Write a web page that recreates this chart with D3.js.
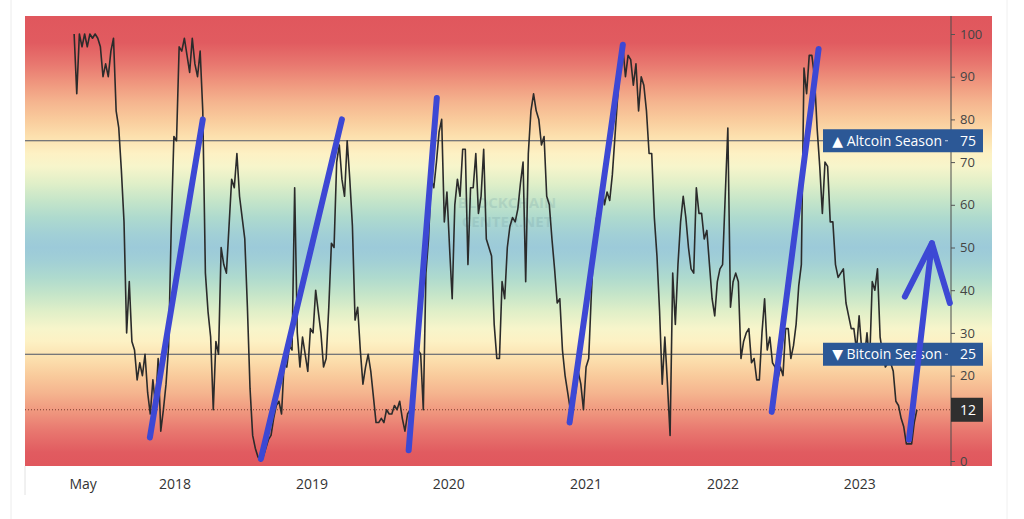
<!DOCTYPE html>
<html>
<head>
<meta charset="utf-8">
<script src="https://cdn.jsdelivr.net/npm/d3@7"></script>
<style>
  body { margin: 0; background: #fff; }
  svg { display: block; font-family: "Open Sans", "DejaVu Sans", sans-serif; }
</style>
</head>
<body>
<div id="chart"></div>
<script>
// Altcoin season index, one reading per week starting at startDate
var startDate = "2017-04-07";
var stepDays = 7;
var seasonIndex = [
  100, 86, 100, 97, 100, 97, 100, 99, 100, 99,
  97, 90, 93, 90, 96, 99, 82, 78, 68, 56,
  30, 42, 28, 26, 19, 23, 20, 25, 16, 11,
  19, 13, 24, 7, 12, 18, 27, 55, 76, 75,
  97, 96, 99, 95, 91, 99, 93, 90, 96, 82,
  44, 35, 29, 12, 28, 25, 50, 46, 44, 55,
  66, 64, 72, 62, 57, 52, 36, 17, 6, 3,
  1, 0, 1, 3, 5, 6, 10, 13, 14, 11,
  23, 22, 27, 26, 64, 30, 22, 29, 25, 21,
  31, 30, 40, 35, 30, 22, 24, 36, 51, 50,
  70, 74, 66, 62, 75, 66, 55, 33, 36, 26,
  18, 22, 25, 21, 15, 9, 9, 10, 9, 12,
  11, 11, 13, 12, 14, 10, 7, 11, 12, 15,
  22, 26, 25, 12, 44, 52, 66, 64, 70, 77,
  80, 56, 63, 50, 38, 60, 66, 62, 73, 73,
  46, 64, 64, 72, 58, 62, 73, 52, 50, 48,
  32, 24, 24, 42, 38, 50, 55, 57, 56, 59,
  65, 70, 42, 72, 82, 86, 82, 80, 74, 76,
  62, 60, 52, 45, 37, 38, 26, 20, 16, 12,
  14, 16, 21, 18, 12, 22, 24, 39, 51, 57,
  58, 65, 60, 63, 61, 67, 76, 85, 92, 97,
  90, 95, 94, 88, 93, 82, 90, 88, 82, 72,
  72, 57, 48, 35, 18, 29, 18, 6, 44, 32,
  46, 56, 62, 57, 50, 45, 44, 64, 58, 58,
  52, 54, 46, 38, 34, 42, 45, 46, 62, 78,
  36, 42, 44, 42, 24, 28, 30, 31, 23, 24,
  19, 19, 30, 38, 26, 29, 23, 22, 19, 22,
  20, 31, 31, 24, 27, 32, 41, 46, 92, 86,
  95, 95, 90, 78, 69, 58, 70, 69, 56, 56,
  46, 43, 44, 45, 37, 34, 31, 31, 26, 34,
  26, 24, 30, 23, 42, 40, 45, 29, 25, 22,
  23, 23, 21, 14, 13, 10, 8, 4, 4, 4,
  9, 12
];

// time axis labels
var tickDates = ["2017-05-01", "2018-01-01", "2019-01-01", "2020-01-01", "2021-01-01", "2022-01-01", "2023-01-01"];
var tickLabels = ["May", "2018", "2019", "2020", "2021", "2022", "2023"];
var valueTicks = [0, 10, 20, 30, 40, 50, 60, 70, 80, 90, 100];

// season levels
var altcoinLevel = 75;
var bitcoinLevel = 25;

// hand drawn blue strokes, [date, value]
var trendStrokes = [
  [["2017-10-26", 5.5], ["2018-03-16", 80]],
  [["2018-08-18", 0.5], ["2019-03-22", 80]],
  [["2019-09-16", 2.5], ["2019-11-30", 85]],
  [["2020-11-18", 9], ["2021-04-09", 97.5]],
  [["2022-05-11", 11.5], ["2022-09-13", 96.5]]
];
var arrowShaft = [["2023-05-12", 5], ["2023-07-12", 51]];
var arrowHead = [["2023-05-01", 38.5], ["2023-07-12", 51], ["2023-08-29", 37]];

// background colour bands by index value
var bandValues = [104, 98, 93, 88, 84, 80, 76, 72, 69, 65, 61, 57, 53, 50, 47, 43, 39, 35, 31, 28, 24, 20, 16, 12, 7, 2, -4];
var bandColors = ["#e0575d", "#e15b60", "#e8776f", "#f09a80", "#f5b58f", "#f9cb9c", "#fce0ae", "#fdf1c4", "#f7f5cb", "#e0efc8", "#c5e5c9", "#aedace", "#a1cfd6", "#9ccad9",
  "#a1cfd6", "#aedace", "#c5e5c9", "#e0efc8", "#f7f5cb", "#fdf1c4", "#fce0ae", "#f9cb9c", "#f5b58f", "#f09a80", "#e8776f", "#e15b60", "#e0575d"];

var svgWidth = 1024;
var svgHeight = 519;
var plot = { left: 25, right: 951, top: 16, bottom: 466 };
var scaleRight = 992;

var parseDate = d3.timeParse("%Y-%m-%d");

var svg = d3.select("#chart")
  .append("svg")
  .attr("width", svgWidth)
  .attr("height", svgHeight);

var xTimeScale = d3.scaleTime()
  .domain([parseDate("2016-11-27"), parseDate("2023-09-01")])
  .range([plot.left, plot.right]);

var yLinearScale = d3.scaleLinear()
  .domain([0, 100])
  .range([461, 34]);

var first = parseDate(startDate);
var points = seasonIndex.map(function (v, i) {
  return { date: d3.timeDay.offset(first, i * stepDays), value: v };
});
var lastValue = seasonIndex[seasonIndex.length - 1];

// card edges
svg.append("line").attr("x1", 11).attr("x2", 11).attr("y1", 0).attr("y2", svgHeight)
  .attr("stroke", "#ececec");
svg.append("line").attr("x1", 1007).attr("x2", 1007).attr("y1", 0).attr("y2", svgHeight)
  .attr("stroke", "#f0f0f0");
svg.append("line").attr("x1", plot.left).attr("x2", plot.left).attr("y1", plot.bottom).attr("y2", 495)
  .attr("stroke", "#e2e2e2");

// gradient background
var grad = svg.append("defs").append("linearGradient")
  .attr("id", "bands")
  .attr("gradientUnits", "userSpaceOnUse")
  .attr("x1", 0).attr("x2", 0)
  .attr("y1", plot.top).attr("y2", plot.bottom);

grad.selectAll("stop")
  .data(bandValues)
  .enter()
  .append("stop")
  .attr("offset", function (v) {
    var o = (yLinearScale(v) - plot.top) / (plot.bottom - plot.top);
    return Math.max(0, Math.min(1, o));
  })
  .attr("stop-color", function (v, i) { return bandColors[i]; });

svg.append("rect")
  .attr("x", plot.left)
  .attr("y", plot.top)
  .attr("width", scaleRight - plot.left)
  .attr("height", plot.bottom - plot.top)
  .attr("fill", "url(#bands)");

// level lines
[altcoinLevel, bitcoinLevel].forEach(function (lv) {
  svg.append("line")
    .attr("x1", plot.left).attr("x2", plot.right)
    .attr("y1", yLinearScale(lv)).attr("y2", yLinearScale(lv))
    .attr("stroke", "#4a5366")
    .attr("stroke-width", 1.2);
});

svg.append("line")
  .attr("x1", plot.left).attr("x2", plot.right)
  .attr("y1", yLinearScale(lastValue)).attr("y2", yLinearScale(lastValue))
  .attr("stroke", "#7a3b2e")
  .attr("stroke-dasharray", "1,2");

// watermark
var wm = svg.append("g")
  .attr("fill", "#6f9aa0")
  .attr("opacity", 0.22)
  .attr("font-size", 15)
  .attr("font-weight", 700)
  .attr("text-anchor", "middle");
wm.append("text").attr("x", 507).attr("y", 208).text("BLOCKCHAIN");
wm.append("text").attr("x", 507).attr("y", 227).text("CENTER.NET");

// index line
var line = d3.line()
  .x(function (d) { return xTimeScale(d.date); })
  .y(function (d) { return yLinearScale(d.value); });

svg.append("path")
  .datum(points)
  .attr("d", line)
  .attr("fill", "none")
  .attr("stroke", "#2b2b2b")
  .attr("stroke-width", 1.6)
  .attr("stroke-linejoin", "round");

// y axis on the right, the label under the last value box is left out
var rightAxis = d3.axisRight(yLinearScale)
  .tickValues(valueTicks)
  .tickSize(4)
  .tickPadding(5);

var yAxis = svg.append("g")
  .attr("transform", `translate(${plot.right}, 0)`)
  .call(rightAxis);
yAxis.select(".domain").remove();
yAxis.selectAll(".tick line").attr("stroke", "#555");
yAxis.selectAll(".tick text")
  .attr("fill", "#444")
  .attr("font-size", 13)
  .attr("font-family", "Open Sans, DejaVu Sans, sans-serif")
  .filter(function (d) { return Math.abs(yLinearScale(d) - yLinearScale(lastValue)) < 14; })
  .remove();

svg.append("line")
  .attr("x1", plot.right).attr("x2", plot.right)
  .attr("y1", plot.top).attr("y2", plot.bottom)
  .attr("stroke", "#4d4d4d");

// time labels
svg.append("g")
  .selectAll("text")
  .data(tickDates)
  .enter()
  .append("text")
  .attr("x", function (d) { return xTimeScale(parseDate(d)); })
  .attr("y", 489)
  .attr("text-anchor", "middle")
  .attr("font-size", 14)
  .attr("fill", "#333")
  .text(function (d, i) { return tickLabels[i]; });

// season labels
function seasonLabel(level, title) {
  var cy = yLinearScale(level);
  var g = svg.append("g");
  g.append("rect")
    .attr("x", 823).attr("y", cy - 11.5)
    .attr("width", scaleRight - 9 - 823).attr("height", 23)
    .attr("fill", "#2c5896");
  g.append("text")
    .attr("x", 942).attr("y", cy)
    .attr("dy", "0.35em")
    .attr("text-anchor", "end")
    .attr("font-size", 14)
    .attr("fill", "#fff")
    .text(title);
  g.append("line")
    .attr("x1", 945).attr("x2", 948)
    .attr("y1", cy).attr("y2", cy)
    .attr("stroke", "#c9d3e6");
  g.append("text")
    .attr("x", 960).attr("y", cy)
    .attr("dy", "0.35em")
    .attr("font-size", 14)
    .attr("fill", "#fff")
    .text(level);
}
seasonLabel(altcoinLevel, "\u25B2 Altcoin Season");
seasonLabel(bitcoinLevel, "\u25BC Bitcoin Season");

// last value label
var ly = yLinearScale(lastValue);
svg.append("rect")
  .attr("x", plot.right).attr("y", ly - 12)
  .attr("width", scaleRight - 9 - plot.right).attr("height", 24)
  .attr("fill", "#2f2f2f");
svg.append("text")
  .attr("x", 960).attr("y", ly)
  .attr("dy", "0.35em")
  .attr("font-size", 14)
  .attr("fill", "#fff")
  .text(lastValue);

// blue hand drawn strokes
var strokeLine = d3.line()
  .x(function (d) { return xTimeScale(parseDate(d[0])); })
  .y(function (d) { return yLinearScale(d[1]); });

svg.append("g")
  .selectAll("path")
  .data(trendStrokes.concat([arrowShaft, arrowHead]))
  .enter()
  .append("path")
  .attr("d", strokeLine)
  .attr("fill", "none")
  .attr("stroke", "#3d48d4")
  .attr("stroke-width", 6)
  .attr("stroke-linecap", "round")
  .attr("stroke-linejoin", "round");
</script>
</body>
</html>
